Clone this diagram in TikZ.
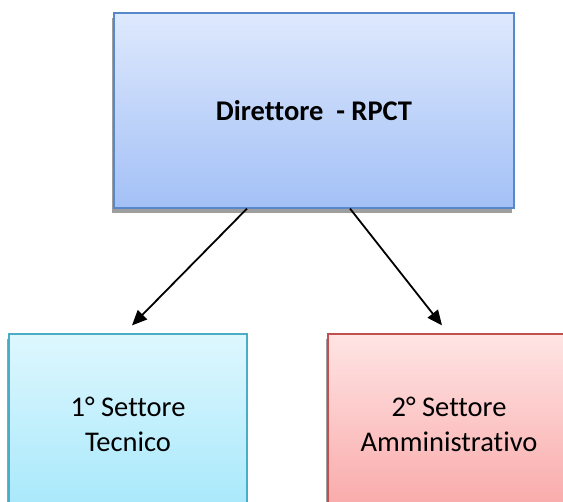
\documentclass[tikz,border=0pt]{standalone}
\usepackage{fontspec}
\setmainfont{Carlito}[Ligatures=NoCommon]
\usetikzlibrary{arrows.meta,shadows}
\definecolor{dirtop}{RGB}{222,233,253}
\definecolor{dirbot}{RGB}{163,192,246}
\definecolor{dirline}{RGB}{88,136,204}
\definecolor{tectop}{RGB}{222,247,254}
\definecolor{tecbot}{RGB}{166,232,251}
\definecolor{tecline}{RGB}{75,172,198}
\definecolor{amtop}{RGB}{255,228,228}
\definecolor{ambot}{RGB}{249,168,168}
\definecolor{amline}{RGB}{192,80,77}
\begin{document}
\begin{tikzpicture}[x=1pt, y=1pt,
        office/.style={rectangle, draw, line width=1.2pt, inner sep=0pt,
            drop shadow={shadow xshift=-2pt, shadow yshift=-5pt, fill=black!38, opacity=1}},
        boxtext/.style={align=center, font=\fontsize{28.5}{35}\selectfont},
        arrow/.style={draw, line width=1.8pt, -{Triangle[length=15pt, width=13pt]}}
    ]
    \useasboundingbox (0,0) rectangle (563,502);
    % Nodes
    \node[office, draw=dirline, top color=dirtop, bottom color=dirbot,
        minimum width=400pt, minimum height=195pt, boxtext]
        (dir) at (314,391.5) {\textbf{Direttore~~-~RPCT}};
    \node[office, draw=tecline, top color=tectop, bottom color=tecbot,
        minimum width=238pt, minimum height=180pt, boxtext]
        (tec) at (128,78) {1° Settore\\Tecnico};
    \node[office, draw=amline, top color=amtop, bottom color=ambot,
        minimum width=242pt, minimum height=180pt, boxtext]
        (amm) at (449,78) {2° Settore\\Amministrativo};

    % Arrows connecting nodes
    \draw[arrow] ([xshift=-67pt]dir.south) -- ([xshift=4pt, yshift=8pt]tec.north);
    \draw[arrow] ([xshift=36pt]dir.south) -- ([xshift=-7pt, yshift=8pt]amm.north);
\end{tikzpicture}
\end{document}
